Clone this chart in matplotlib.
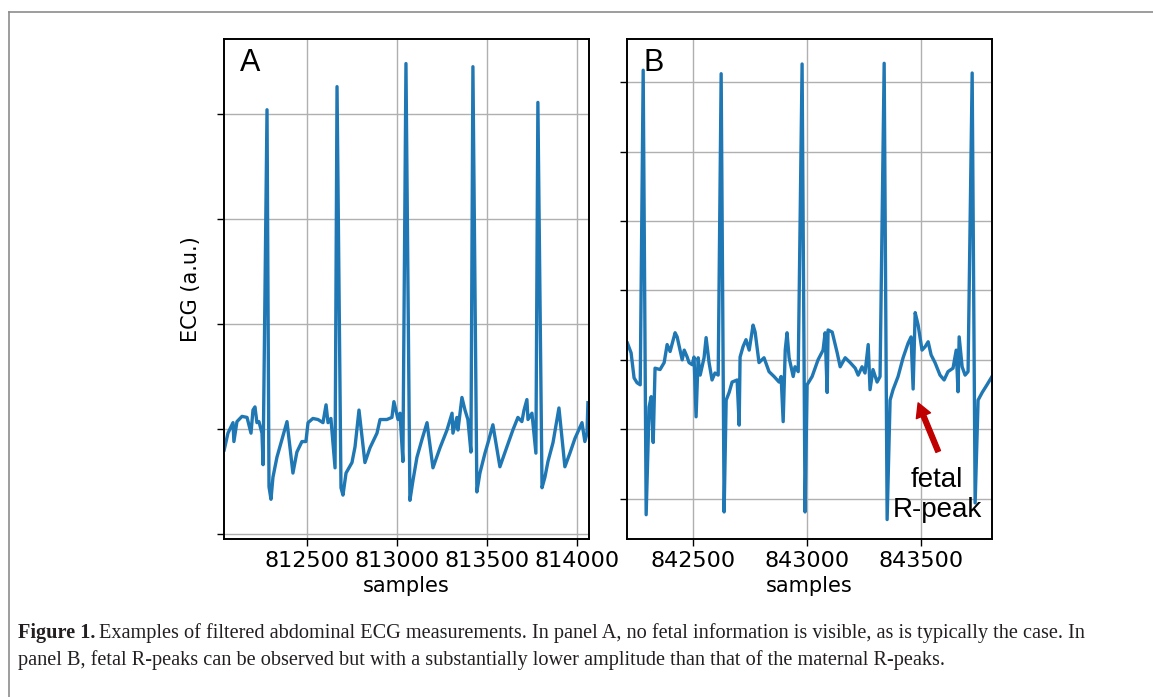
import matplotlib
matplotlib.use('Agg')
from matplotlib import pyplot as plt
from matplotlib.lines import Line2D

# panel A: maternal ECG only
a_samples = [812040, 812061, 812089, 812094, 812111, 812139, 812167, 812189, 812200, 812211,
             812222, 812233, 812250, 812256, 812278, 812289, 812300, 812311, 812333, 812361,
             812389, 812422, 812444, 812472, 812494, 812506, 812533, 812561, 812589, 812606,
             812617, 812633, 812656, 812667, 812689, 812700, 812717, 812750, 812767, 812789,
             812822, 812850, 812889, 812906, 812944, 812972, 812983, 813006, 813017, 813033,
             813050, 813072, 813089, 813111, 813139, 813167, 813200, 813239, 813278, 813306,
             813311, 813333, 813339, 813361, 813378, 813394, 813411, 813422, 813444, 813461,
             813489, 813506, 813533, 813572, 813611, 813644, 813672, 813694, 813706, 813722,
             813728, 813750, 813772, 813783, 813806, 813822, 813839, 813867, 813900, 813933,
             813961, 813989, 814028, 814044, 814056, 814061]
a_values = [-0.20, -0.04, 0.06, -0.12, 0.07, 0.12, 0.11, -0.04, 0.18, 0.21,
            0.06, 0.07, -0.04, -0.34, 3.04, -0.55, -0.67, -0.46, -0.27, -0.10,
            0.07, -0.42, -0.22, -0.12, -0.12, 0.06, 0.10, 0.09, 0.06, 0.23,
            0.06, 0.10, -0.37, 3.26, -0.56, -0.63, -0.42, -0.32, -0.17, 0.18,
            -0.32, -0.18, -0.04, 0.09, 0.09, 0.11, 0.26, 0.09, 0.15, -0.31,
            3.48, -0.68, -0.49, -0.27, -0.10, 0.06, -0.37, -0.18, -0.01, 0.15,
            -0.04, 0.11, -0.01, 0.30, 0.18, 0.09, -0.22, 3.45, -0.60, -0.42,
            -0.23, -0.13, 0.04, -0.36, -0.17, -0.01, 0.11, 0.07, 0.18, 0.28,
            0.09, 0.15, -0.23, 3.11, -0.56, -0.46, -0.31, -0.13, 0.20, -0.36,
            -0.23, -0.09, 0.06, -0.12, -0.04, 0.25]

# panel B: maternal + fetal R-peaks
b_samples = [842212, 842228, 842241, 842254, 842268, 842281, 842294, 842307, 842316, 842325,
             842333, 842355, 842373, 842386, 842399, 842421, 842430, 842452, 842461, 842474,
             842482, 842496, 842504, 842513, 842522, 842531, 842548, 842557, 842570, 842583,
             842596, 842610, 842623, 842636, 842645, 842658, 842671, 842693, 842702, 842706,
             842719, 842732, 842746, 842763, 842772, 842789, 842811, 842833, 842855, 842877,
             842886, 842895, 842904, 842912, 842921, 842939, 842947, 842961, 842978, 842991,
             843000, 843022, 843048, 843070, 843079, 843088, 843092, 843110, 843132, 843145,
             843167, 843189, 843211, 843224, 843241, 843254, 843268, 843276, 843289, 843307,
             843320, 843338, 843351, 843364, 843377, 843399, 843421, 843443, 843456, 843465,
             843474, 843487, 843504, 843518, 843531, 843544, 843561, 843583, 843601, 843618,
             843640, 843654, 843662, 843667, 843680, 843693, 843706, 843724, 843737, 843750,
             843768, 843789, 843811]
b_values = [0.24, 0.10, -0.26, -0.33, -0.36, 4.17, -2.23, -0.68, -0.53, -1.19,
            -0.12, -0.14, -0.04, 0.22, 0.12, 0.39, 0.33, 0.00, 0.14, 0.04,
            -0.04, -0.07, 0.04, -0.82, 0.03, -0.22, 0.03, 0.32, -0.04, -0.29,
            -0.19, -0.22, 4.12, -2.19, -0.58, -0.47, -0.32, -0.29, -0.94, 0.04,
            0.19, 0.29, 0.14, 0.50, 0.40, -0.04, 0.03, -0.17, -0.24, -0.32,
            -0.24, -0.89, 0.14, 0.39, 0.03, -0.24, -0.10, -0.17, 4.26, -2.19,
            -0.36, -0.24, 0.00, 0.14, 0.39, -0.47, 0.43, 0.40, 0.10, -0.10,
            0.03, -0.04, -0.12, -0.22, -0.10, -0.19, 0.22, -0.43, -0.14, -0.32,
            -0.24, 4.27, -2.30, -0.58, -0.43, -0.24, 0.03, 0.24, 0.33, -0.42,
            0.68, 0.50, 0.14, 0.19, 0.26, 0.07, -0.04, -0.22, -0.29, -0.17,
            -0.12, 0.14, -0.46, 0.33, -0.10, -0.22, -0.17, 4.13, -2.06, -0.58,
            -0.47, -0.36, -0.24]

a_xticks = [812500, 813000, 813500, 814000]
b_xticks = [842500, 843000, 843500]
a_yticks = [-1, 0, 1, 2, 3]
b_yticks = [-2, -1, 0, 1, 2, 3, 4]

fetal_peak = (843487, -0.62)
fetal_text = (843570, -1.94)

caption_bold = 'Figure 1.'
caption_1 = ('Examples of filtered abdominal ECG measurements. In panel A, no fetal information '
             'is visible, as is typically the case. In')
caption_2 = ('panel B, fetal R-peaks can be observed but with a substantially lower amplitude '
             'than that of the maternal R-peaks.')

W, H = 1153, 697
fig = plt.figure(figsize=(W / 100, H / 100), dpi=100)

# grey frame round the figure (only left/top visible in crop)
fig.add_artist(Line2D([9 / W, 9 / W], [0, 1 - 12 / H], transform=fig.transFigure, color='#8c8c8c', lw=1.2))
fig.add_artist(Line2D([9 / W, 1], [1 - 12 / H, 1 - 12 / H], transform=fig.transFigure, color='#8c8c8c', lw=1.2))

axA = fig.add_axes([224 / W, 1 - 539 / H, 365 / W, 500 / H])
axB = fig.add_axes([627 / W, 1 - 539 / H, 365 / W, 500 / H])

axA.plot(a_samples, a_values, color='#1f77b4', lw=2.4)
axB.plot(b_samples, b_values, color='#1f77b4', lw=2.4)

axA.set_xlim(812039, 814067)
axA.set_ylim(-1.048, 3.714)
axB.set_xlim(842210, 843811)
axB.set_ylim(-2.58, 4.62)

for ax, xt, yt, lab in [(axA, a_xticks, a_yticks, 'A'), (axB, b_xticks, b_yticks, 'B')]:
    ax.set_xticks(xt)
    ax.set_xticklabels([str(t) for t in xt])
    ax.set_yticks(yt)
    ax.set_yticklabels([])
    ax.grid(True, color='#b0b0b0', lw=1.0)
    ax.tick_params(labelsize=16, length=5, width=1.0)
    for s in ax.spines.values():
        s.set_linewidth(1.4)
    ax.set_xlabel('samples', fontsize=15)
    ax.text(0.045, 0.952, lab, transform=ax.transAxes, fontsize=22,
            family='Liberation Sans', ha='left', va='center')

axA.set_ylabel('ECG (a.u.)', fontsize=15, labelpad=8)

axB.annotate('', xy=fetal_peak, xytext=(843575, -1.32),
             arrowprops=dict(facecolor='#c00000', edgecolor='#c00000', width=3.5,
                             headwidth=11, headlength=10, shrink=0))
axB.text(fetal_text[0], fetal_text[1], 'fetal\nR-peak', fontsize=20, family='Liberation Sans',
         ha='center', va='center', linespacing=1.2)

# caption, bold lead-in then regular text
r = fig.canvas.get_renderer()
t = fig.text(18 / W, 1 - 633 / H, caption_bold, fontsize=14.6, family='Liberation Serif',
             weight='bold', va='center', color='#231f20')
bb = t.get_window_extent(r)
fig.text((bb.x1 + 4) / W, 1 - 633 / H, caption_1, fontsize=14.6, family='Liberation Serif',
         va='center', color='#231f20')
fig.text(18 / W, 1 - 660 / H, caption_2, fontsize=14.6, family='Liberation Serif',
         va='center', color='#231f20')

fig.savefig('out.png', dpi=100)
